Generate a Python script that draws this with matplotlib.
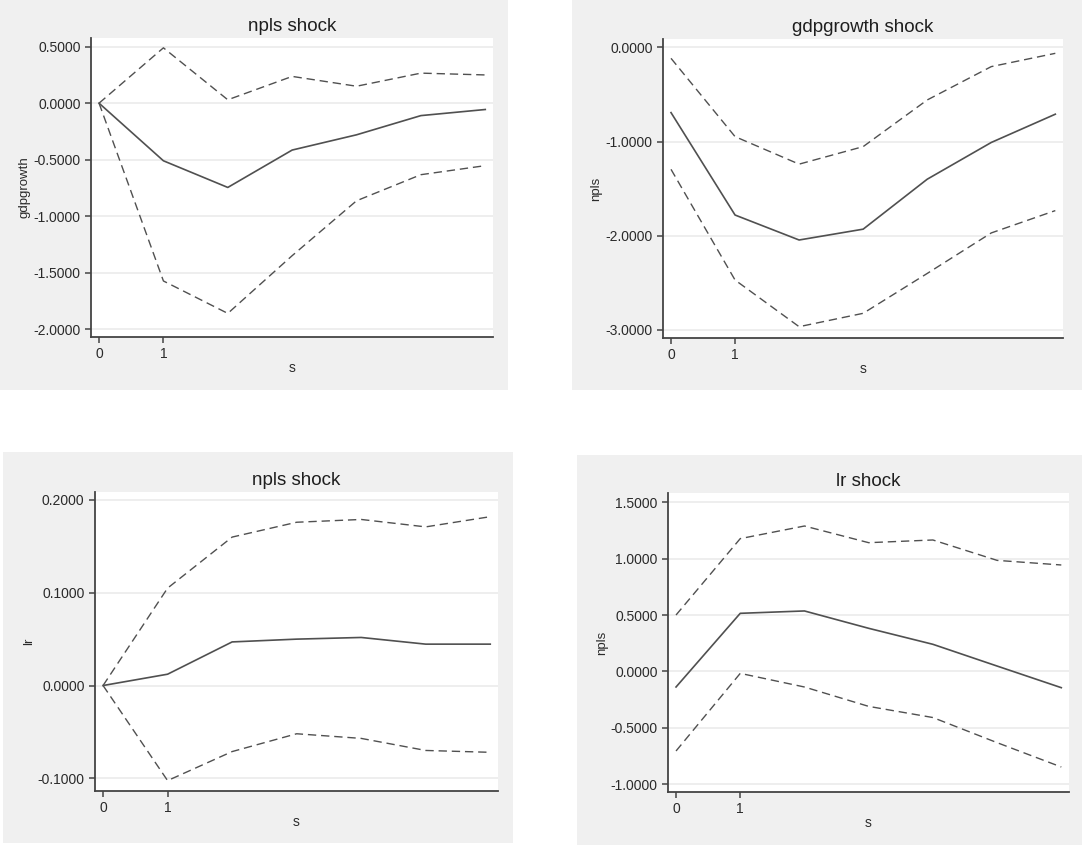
import matplotlib
matplotlib.use('Agg')
import matplotlib.pyplot as plt
from matplotlib.patches import Rectangle

plt.rcParams['font.family'] = ['Liberation Sans', 'DejaVu Sans']

# horizon steps
steps = [0, 1, 2, 3, 4, 5, 6]

# npls shock -> gdpgrowth
gdp_irf = [0.0, -0.51, -0.746, -0.415, -0.28, -0.11, -0.056]
gdp_hi = [0.0, 0.49, 0.03, 0.237, 0.15, 0.266, 0.25]
gdp_lo = [0.0, -1.574, -1.861, -1.35, -0.864, -0.633, -0.553]

# gdpgrowth shock -> npls
npl_irf = [-0.693, -1.78, -2.045, -1.93, -1.40, -1.01, -0.71]
npl_hi = [-0.117, -0.948, -1.24, -1.054, -0.559, -0.205, -0.064]
npl_lo = [-1.295, -2.47, -2.965, -2.823, -2.40, -1.97, -1.733]

# npls shock -> lr
lr_irf = [0.0, 0.0122, 0.047, 0.050, 0.0518, 0.0446, 0.0446]
lr_hi = [0.0, 0.105, 0.160, 0.176, 0.179, 0.171, 0.182]
lr_lo = [0.0, -0.1025, -0.0712, -0.052, -0.057, -0.070, -0.072]

# lr shock -> npls
npl2_irf = [-0.139, 0.515, 0.536, 0.382, 0.24, 0.047, -0.145]
npl2_hi = [0.5, 1.178, 1.29, 1.142, 1.166, 0.985, 0.944]
npl2_lo = [-0.707, -0.018, -0.139, -0.311, -0.41, -0.633, -0.849]

W, H = 1086, 846
fig = plt.figure(figsize=(W / 100, H / 100), dpi=100)
fig.patch.set_facecolor('white')

LINE = '#505050'
TXT = '#2a2a2a'

panels = [
    # bg box (x0, y0, x1, y1), axes box, title, ylabel, data, yticks, ylim
    ((0, 0, 508, 390), (91, 38, 493, 337), 'npls shock', 'gdpgrowth',
     (gdp_irf, gdp_hi, gdp_lo), [0.5, 0.0, -0.5, -1.0, -1.5, -2.0], (-2.07, 0.577)),
    ((572, 0, 1082, 390), (663, 39, 1063, 338), 'gdpgrowth shock', 'npls',
     (npl_irf, npl_hi, npl_lo), [0.0, -1.0, -2.0, -3.0], (-3.085, 0.088)),
    ((3, 452, 513, 843), (95, 492, 498, 791), 'npls shock', 'lr',
     (lr_irf, lr_hi, lr_lo), [0.2, 0.1, 0.0, -0.1], (-0.1137, 0.2086)),
    ((577, 455, 1082, 845), (668, 493, 1069, 792), 'lr shock', 'npls',
     (npl2_irf, npl2_hi, npl2_lo), [1.5, 1.0, 0.5, 0.0, -0.5, -1.0], (-1.071, 1.583)),
]

for bg, box, title, ylab, (irf, hi, lo), yt, ylim in panels:
    fig.add_artist(Rectangle((bg[0] / W, 1 - bg[3] / H), (bg[2] - bg[0]) / W,
                             (bg[3] - bg[1]) / H, transform=fig.transFigure,
                             facecolor='#f0f0f0', edgecolor='none', zorder=0))
    ax = fig.add_axes([box[0] / W, 1 - box[3] / H, (box[2] - box[0]) / W,
                       (box[3] - box[1]) / H])
    ax.set_facecolor('white')
    ax.plot(steps, irf, color=LINE, lw=1.2)
    ax.plot(steps, hi, color=LINE, lw=1.0, dashes=(6, 3.5))
    ax.plot(steps, lo, color=LINE, lw=1.0, dashes=(6, 3.5))

    ax.set_xlim(-0.125, 6.12)
    ax.set_ylim(*ylim)
    ax.set_xticks([0, 1])
    ax.set_yticks(yt)
    ax.set_yticklabels(['%.4f' % v for v in yt])
    ax.yaxis.grid(True, color='#ebebeb', lw=1.2)
    ax.set_axisbelow(True)

    for s in ['top', 'right']:
        ax.spines[s].set_visible(False)
    for s in ['left', 'bottom']:
        ax.spines[s].set_color('#444444')
        ax.spines[s].set_linewidth(1.3)
    ax.tick_params(colors='#444444', labelcolor=TXT, labelsize=10, length=4, width=1.1)

    ax.set_title(title, fontsize=13.5, color='#1e1e1e', pad=5)
    ax.set_ylabel(ylab, fontsize=9.5, color=TXT, labelpad=2)
    ax.set_xlabel('s', fontsize=10, color=TXT, labelpad=0)

fig.savefig('out.png', dpi=100, facecolor='white')
